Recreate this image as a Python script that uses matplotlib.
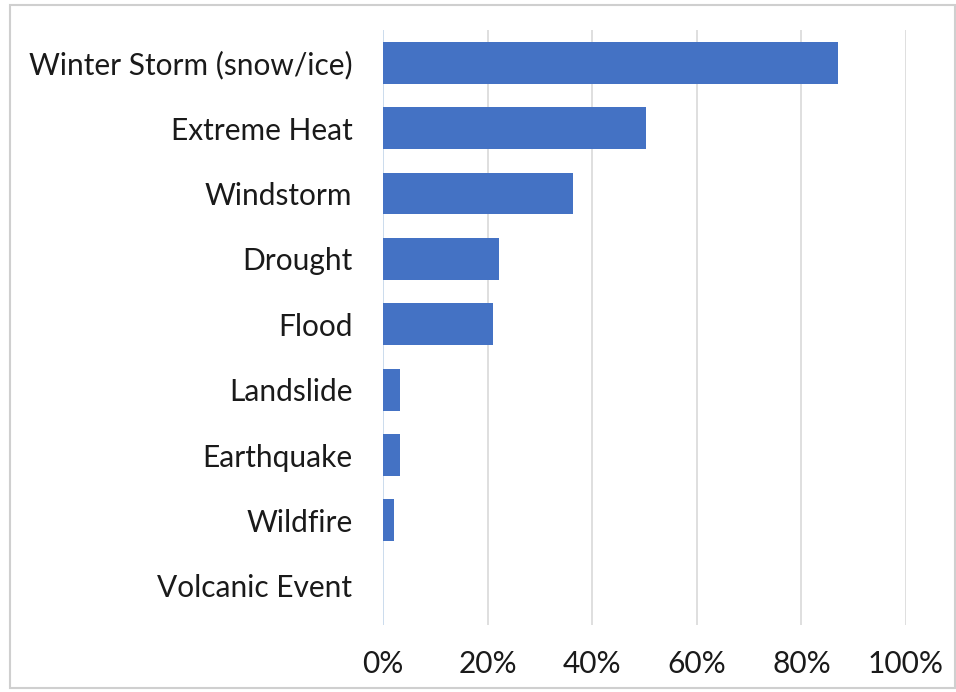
import matplotlib
matplotlib.use("Agg")
import matplotlib.pyplot as plt
from matplotlib.patches import Rectangle
from matplotlib.ticker import FuncFormatter

# hazard categories, top to bottom
hazards = ["Winter Storm (snow/ice)", "Extreme Heat", "Windstorm", "Drought",
           "Flood", "Landslide", "Earthquake", "Wildfire", "Volcanic Event"]
# share of responses (%)
shares = [87.0, 50.3, 36.3, 22.2, 21.0, 3.3, 3.3, 2.1, 0.0]
xticks = [0, 20, 40, 60, 80, 100]

plt.rcParams["font.family"] = ["Lato", "DejaVu Sans"]

fig = plt.figure(figsize=(9.56, 6.92), dpi=100)
ax = fig.add_axes([0.4006, 0.0968, 0.5471, 0.8598])

ax.barh(range(len(hazards)), shares, height=0.64, color="#4472C4", zorder=3)

ax.set_xlim(0, 100)
ax.set_ylim(len(hazards) - 0.4, -0.5)
ax.set_xticks(xticks)
ax.xaxis.set_major_formatter(FuncFormatter(lambda v, p: f"{v:.0f}%"))
ax.set_yticks(range(len(hazards)))
ax.set_yticklabels(hazards)

ax.grid(axis="x", color="#d9d9d9", linewidth=1.2, zorder=0)
for s in ax.spines.values():
    s.set_visible(False)
ax.axvline(0, color="#c9dcf0", linewidth=1.2, zorder=2)

ax.tick_params(axis="both", length=0, labelsize=21.5, colors="#1a1a1a")
ax.tick_params(axis="y", pad=22)
ax.tick_params(axis="x", pad=18)

# light frame around the chart
fig.patches.append(Rectangle((10 / 956, 4 / 692), 945 / 956, 683 / 692,
                             transform=fig.transFigure, fill=False,
                             edgecolor="#cfcfcf", linewidth=1.5))

fig.savefig("out.png", dpi=100)
